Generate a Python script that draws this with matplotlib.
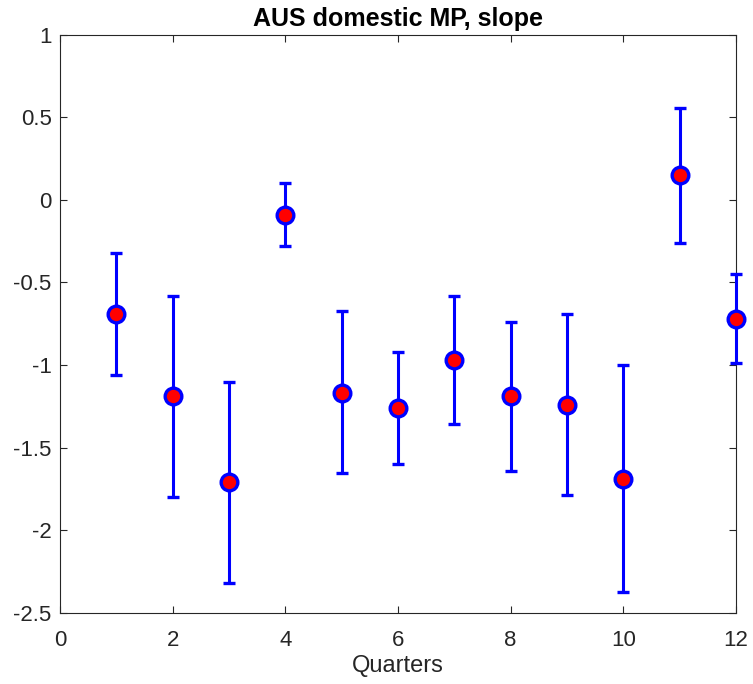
import matplotlib
matplotlib.use("Agg")
import matplotlib.pyplot as plt

plt.rcParams['font.family'] = ['Liberation Sans', 'DejaVu Sans']

quarters = [1, 2, 3, 4, 5, 6, 7, 8, 9, 10, 11, 12]
slope = [-0.69, -1.19, -1.71, -0.09, -1.17, -1.26, -0.97, -1.19, -1.24, -1.69, 0.15, -0.72]
upper = [-0.32, -0.58, -1.10, 0.10, -0.67, -0.92, -0.58, -0.74, -0.69, -1.00, 0.555, -0.45]
lower = [-1.06, -1.80, -2.32, -0.28, -1.655, -1.60, -1.355, -1.64, -1.785, -2.375, -0.26, -0.99]

err_lo = [s - l for s, l in zip(slope, lower)]
err_hi = [u - s for s, u in zip(slope, upper)]

fig = plt.figure(figsize=(7.53, 6.84), dpi=100)
ax = fig.add_axes([60/753, 1 - 613/684, 676/753, 578.5/684])

ax.errorbar(quarters, slope, yerr=[err_lo, err_hi], fmt="o", color="blue",
            ecolor="blue", elinewidth=2.2, capsize=4, capthick=2.2,
            markersize=12, markerfacecolor="red", markeredgecolor="blue",
            markeredgewidth=2.4, clip_on=False, zorder=3)

ax.set_xlim(0, 12)
ax.set_ylim(-2.5, 1)
ax.set_xticks([0, 2, 4, 6, 8, 10, 12])
ax.set_yticks([-2.5, -2, -1.5, -1, -0.5, 0, 0.5, 1])
ax.set_yticklabels(["-2.5", "-2", "-1.5", "-1", "-0.5", "0", "0.5", "1"])

for s in ax.spines.values():
    s.set_color("#262626")
    s.set_linewidth(0.8)
ax.tick_params(direction="in", top=True, right=True, length=5, width=0.8,
               colors="#262626", labelsize=16)
ax.tick_params(axis="x", pad=12)
ax.tick_params(axis="y", pad=6)

ax.set_xlabel("Quarters", fontsize=17, color="#262626", labelpad=3)
ax.set_title("AUS domestic MP, slope", fontsize=18, fontweight="bold", pad=6)

fig.savefig("out.png", dpi=100)
